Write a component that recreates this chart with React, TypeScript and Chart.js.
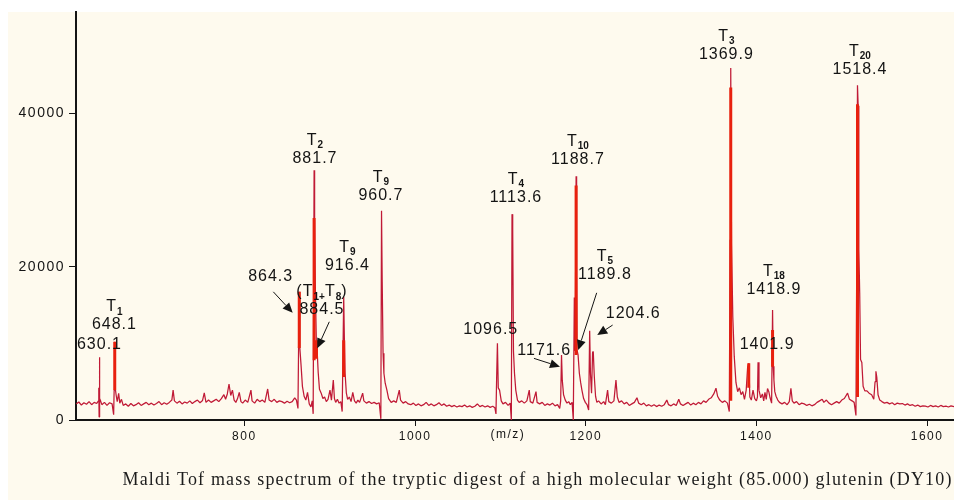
import React, { useEffect, useRef } from 'react';
import { Chart, registerables } from 'chart.js';

Chart.register(...registerables);

// ---- scale extents and ticks ----
const MZ_MIN = 602.7;
const MZ_MAX = 1631.5;
const INTENSITY_MAX = 53200;
const xTickValues = [800, 1000, 1200, 1400, 1600];
const yTickValues = [0, 20000, 40000];

// ---- spectrum: [m/z, intensity] ----
const spectrum: [number, number][] = [
  [603, 2100], [606, 2350], [609, 1950], [612, 2250], [615, 2050], [618, 2400], [621, 2000], [624, 2300],
  [627, 2150], [628.6, 2450], [629.4, 4200], [629.8, 400], [630.1, 8180], [630.6, 2800], [631.5, 2500],
  [633, 2000], [636, 2300], [639, 1900], [642, 2250], [645, 2100], [646.8, 700], [647.4, 3900],
  [648.1, 10210], [648.8, 4050], [649.8, 3200], [651, 2400], [652.7, 3480], [654, 2200], [656, 2700],
  [658, 1900], [661, 2100], [664, 1800], [667, 2150], [670, 1850], [673, 2000], [676, 2250], [679, 1900],
  [682, 2100], [685, 2300], [688, 2000], [691, 2200], [694, 1950], [697, 2150], [700, 2400], [703, 2000],
  [706, 2250], [709, 2050], [712, 2300], [715, 2600], [716.5, 3900], [718, 2500], [721, 2200], [724, 2450],
  [727, 2100], [730, 2350], [733, 2200], [736, 2500], [739, 2150], [742, 2400], [745, 2600], [748, 2250],
  [751, 2550], [753, 3550], [755, 2300], [758, 2600], [761, 2300], [764, 2500], [767, 2700], [770, 2400],
  [773, 2800], [776, 3300], [778, 2700], [780, 3400], [782, 4700], [784, 3200], [786, 3900], [788, 2600],
  [790, 2300], [792, 2800], [794, 3600], [796, 2400], [798, 2200], [801, 2600], [804, 2300], [807.7, 3900],
  [809, 2500], [812, 2200], [815, 2700], [818, 2400], [821, 2600], [824, 2300], [827.3, 4050], [829, 2600],
  [832, 2400], [835, 2700], [838, 2300], [841, 2500], [844, 2400], [847, 2200], [850, 2450], [853, 2250],
  [856, 2400], [859, 2900], [861, 2600], [862.8, 1500], [863.5, 9400], [864.3, 16730], [865, 9400],
  [866.5, 7000], [868, 4400], [870, 3100], [872, 2600], [874, 3600], [876, 2100], [878, 1700], [879.5, 2500],
  [880.6, 800], [881.7, 32600], [882.3, 26350], [883.2, 17000], [884.5, 9130], [885.5, 8500], [886.5, 6200],
  [888, 4000], [890, 3500], [892, 2800], [894, 3000], [896, 2400], [898, 2700], [900.3, 3900], [902, 2600],
  [904.2, 5200], [905.5, 2800], [907, 2300], [909, 2700], [911, 2200], [913, 2400], [914.6, 1100],
  [916.4, 16080], [917.2, 10400], [918, 6100], [919.5, 3500], [921, 2700], [923, 3000], [925, 2400],
  [927, 3600], [929, 2500], [931, 2200], [933, 2600], [935, 2300], [938.6, 3500], [940, 2500], [943, 2200],
  [946, 2400], [949, 2150], [952, 2300], [955, 2100], [958, 2250], [959.9, 150], [960.7, 27300],
  [961.5, 18000], [962.5, 8700], [963.5, 6100], [965, 4800], [967, 3900], [969, 2800], [972, 2300],
  [975, 2500], [978, 2300], [981.5, 3900], [983, 2600], [986, 2200], [989, 2400], [992, 2100], [995, 2000],
  [998, 2200], [1001, 1900], [1004, 2100], [1007, 1850], [1010, 2000], [1013, 2300], [1016, 1900],
  [1019, 2100], [1022, 1850], [1025, 2000], [1028, 2250], [1031, 1900], [1034, 2100], [1037, 1800],
  [1040, 1950], [1043, 1750], [1046, 1900], [1049, 1700], [1052, 1850], [1055, 1750], [1058, 1950],
  [1061, 1700], [1064, 1850], [1067, 1650], [1070, 1800], [1073, 2100], [1076, 1750], [1079, 1900],
  [1082, 1700], [1085, 1850], [1088, 1650], [1091, 1800], [1093.5, 1600], [1094.8, 800], [1095.6, 5500],
  [1096.5, 10000], [1097.5, 4200], [1099, 3900], [1101, 2500], [1103, 2100], [1106, 2300], [1109, 1900],
  [1111.5, 2200], [1112.8, 0], [1113.6, 26870], [1114.4, 25000], [1115.3, 9000], [1116.5, 6100],
  [1118, 3900], [1120, 2600], [1122, 2300], [1125, 2500], [1128, 2200], [1131, 2500], [1133.8, 3900],
  [1135, 2400], [1138, 2200], [1141.7, 3700], [1143, 2300], [1146, 2100], [1149, 2300], [1152, 1900],
  [1155, 2100], [1158, 1950], [1161, 2200], [1164, 1850], [1167, 2000], [1169.5, 1500], [1170.6, 2500],
  [1171.6, 8480], [1172.5, 5200], [1174, 3300], [1176, 2600], [1178, 2200], [1180, 2400], [1182, 2000],
  [1184, 2300], [1185.4, 0], [1186.6, 16000], [1187.6, 9000], [1188.7, 31820], [1189.3, 20000],
  [1189.8, 9130], [1191, 8500], [1192.5, 6100], [1194, 4900], [1195.5, 3900], [1197.5, 2800],
  [1199.5, 2300], [1201.5, 2000], [1203.4, 1300], [1204.6, 11650], [1205.5, 6100], [1206.8, 3500],
  [1208, 8800], [1208.8, 8950], [1210, 5700], [1211.5, 3100], [1213, 2300], [1215, 2500], [1218, 2100],
  [1221, 2400], [1223, 2000], [1225.6, 3900], [1227, 2400], [1230, 2200], [1233, 2500], [1235.4, 5200],
  [1237, 3000], [1239, 2300], [1242, 2500], [1245, 2100], [1248, 2300], [1251, 1900], [1254, 2100],
  [1257, 2300], [1260, 2900], [1262, 2200], [1265, 2000], [1268, 2200], [1271, 1850], [1274, 2000],
  [1277, 1800], [1280, 2000], [1283, 1750], [1286, 1950], [1289, 1800], [1292, 2000], [1295, 2600],
  [1297, 2000], [1300, 1850], [1303, 2100], [1306, 1900], [1309, 2700], [1311, 2100], [1314, 1900],
  [1317, 2100], [1320, 2300], [1323, 1950], [1326, 2200], [1329, 2000], [1332, 2300], [1335, 2100],
  [1338, 2500], [1341, 2300], [1344, 2700], [1347, 2900], [1350, 3400], [1352.6, 4150], [1354.5, 3100],
  [1357, 2600], [1360, 2300], [1363, 2500], [1366, 2200], [1368.2, 1100], [1369.2, 23500], [1369.9, 45950],
  [1370.8, 23000], [1372.3, 13500], [1374, 8300], [1376, 4900], [1378, 3700], [1380, 4200], [1382, 3300],
  [1384, 3700], [1386, 2700], [1388, 3900], [1389.7, 6900], [1391, 7400], [1392.3, 3000], [1394, 2600],
  [1396, 3900], [1398, 2800], [1400, 2500], [1401.2, 3000], [1401.9, 7530], [1403, 3900], [1405, 2900],
  [1407, 3400], [1408.5, 2500], [1410, 3600], [1411.5, 2700], [1413, 4100], [1414.5, 3700], [1416, 2900],
  [1417.8, 2200], [1418.9, 14350], [1419.7, 7000], [1420.5, 5200], [1421.5, 3700], [1423, 3100],
  [1425, 2600], [1427, 2300], [1430, 2100], [1433, 2300], [1436, 2000], [1438.5, 2400], [1440.4, 4150],
  [1442, 2500], [1444, 2200], [1447, 2400], [1450, 2000], [1453, 2200], [1456, 2100], [1459, 1900],
  [1462, 2050], [1465, 1850], [1468, 2000], [1471, 2300], [1474, 2500], [1477, 2700], [1479, 2300],
  [1482, 2600], [1485, 2200], [1488, 2000], [1491, 2200], [1494, 2400], [1497, 2200], [1500, 2600],
  [1503, 2800], [1506.8, 3500], [1509, 2700], [1512, 2500], [1514.5, 2300], [1516.6, 600], [1517.6, 22000],
  [1518.4, 43690], [1519.2, 41000], [1520, 22300], [1521, 16600], [1522, 7900], [1523.5, 7500],
  [1525, 4400], [1527, 3800], [1529.5, 3800], [1532, 3500], [1535, 3300], [1537.5, 2700], [1539, 5000],
  [1540, 6350], [1541, 5600], [1542.5, 3300], [1544.5, 2600], [1547, 2400], [1550, 2200], [1553, 2300],
  [1556, 2100], [1559, 2250], [1562, 2000], [1565, 2200], [1568, 2100], [1571, 2150], [1574, 1950],
  [1577, 2100], [1580, 1900], [1583, 2000], [1586, 1800], [1589, 1950], [1592, 1750], [1595, 1850],
  [1598, 1800], [1601, 1700], [1604, 1900], [1607, 1750], [1610, 1850], [1613, 1700], [1616, 1900],
  [1619, 1750], [1622, 1800], [1625, 1700], [1628, 1850], [1631.5, 1750],
];

// ---- high-intensity cores of the main peaks (second, red trace) ----
const coreMz = [648.1, 864.3, 881.7, 884.5, 916.4, 1188.7, 1369.9, 1391, 1418.9, 1518.4];
const coreTop = [10210, 16730, 26350, 10400, 10400, 30600, 43400, 7400, 11740, 41200];
const coreBottom = [3900, 9400, 7800, 8000, 5600, 8500, 2500, 4200, 6950, 3000];

// ---- labelled peaks (tag uses _{..} for subscripts) ----
const peakMz = [630.1, 648.1, 864.3, 881.7, 884.5, 916.4, 960.7, 1096.5, 1113.6, 1171.6, 1188.7, 1189.8, 1204.6, 1369.9, 1401.9, 1418.9, 1518.4];
const peakTags = ['', 'T_{1}', '', 'T_{2}', '(T_{1+}T_{8})', 'T_{9}', 'T_{9}', '', 'T_{4}', '', 'T_{10}', 'T_{5}', '', 'T_{3}', '', 'T_{18}', 'T_{20}'];
// anchor of each value label (m/z, intensity)
const labelMz = [630.2, 647.7, 830.8, 882.7, 890.9, 920.8, 960.0, 1088.7, 1118.2, 1151.3, 1190.9, 1222.5, 1255.7, 1364.8, 1412.5, 1420.5, 1521.3];
const labelLevel = [9780, 12390, 18690, 34170, 14346, 20215, 29345, 11830, 29045, 9000, 34000, 19040, 13825, 47730, 9780, 17045, 45740];

// ---- pointer arrows (m/z, intensity) ----
const arrowFrom: [number, number][] = [[833.9, 16730], [899.5, 12820], [1139.3, 8045], [1212.8, 16600], [1231.5, 12390]];
const arrowTo: [number, number][] = [[856.6, 13995], [885.4, 9350], [1169.8, 6950], [1191.2, 9130], [1213.5, 11085]];

const unitLabel = '(m/z)';
const unitLabelMz = 1108.8;
const caption = 'Maldi Tof mass spectrum of the tryptic digest of a high molecular weight (85.000) glutenin (DY10)';

const CREAM = '#fefaee';
const TRACE = '#c01a36';
const CORE = '#e8200e';
const INK = '#141414';
const SANS = '"Liberation Sans", Arial, sans-serif';
const SERIF = '"Liberation Serif", "Times New Roman", serif';

type Part = { t: string; sub: boolean };

function splitTag(src: string): Part[] {
  const parts: Part[] = [];
  const re = /_\{([^}]*)\}/g;
  let last = 0;
  let m: RegExpExecArray | null;
  while ((m = re.exec(src))) {
    if (m.index > last) parts.push({ t: src.slice(last, m.index), sub: false });
    parts.push({ t: m[1], sub: true });
    last = re.lastIndex;
  }
  if (last < src.length) parts.push({ t: src.slice(last), sub: false });
  return parts;
}

function drawRich(ctx: CanvasRenderingContext2D, src: string, cx: number, cy: number) {
  const parts = splitTag(src);
  const fontOf = (p: Part) => (p.sub ? `bold 10px ${SANS}` : `16px ${SANS}`);
  const spacingOf = (p: Part) => (p.sub ? '0px' : '1px');
  let total = 0;
  const widths = parts.map((p) => {
    ctx.font = fontOf(p);
    (ctx as any).letterSpacing = spacingOf(p);
    const w = ctx.measureText(p.t).width;
    total += w;
    return w;
  });
  let x = cx - total / 2;
  ctx.textAlign = 'left';
  ctx.textBaseline = 'middle';
  parts.forEach((p, i) => {
    ctx.font = fontOf(p);
    (ctx as any).letterSpacing = spacingOf(p);
    ctx.fillText(p.t, x, p.sub ? cy + 5 : cy);
    x += widths[i];
  });
}

function drawArrow(ctx: CanvasRenderingContext2D, x0: number, y0: number, x1: number, y1: number) {
  const dx = x1 - x0;
  const dy = y1 - y0;
  const len = Math.hypot(dx, dy) || 1;
  const ux = dx / len;
  const uy = dy / len;
  const head = 10;
  const half = 4.5;
  const bx = x1 - ux * head;
  const by = y1 - uy * head;
  ctx.strokeStyle = INK;
  ctx.fillStyle = INK;
  ctx.lineWidth = 1;
  ctx.beginPath();
  ctx.moveTo(x0, y0);
  ctx.lineTo(bx, by);
  ctx.stroke();
  ctx.beginPath();
  ctx.moveTo(x1, y1);
  ctx.lineTo(bx - uy * half, by + ux * half);
  ctx.lineTo(bx + uy * half, by - ux * half);
  ctx.closePath();
  ctx.fill();
}

const spectrumOverlay = {
  id: 'spectrumOverlay',
  beforeDraw(chart: any) {
    chart.ctx.letterSpacing = '1.5px';
  },
  afterDraw(chart: any) {
    const ctx: CanvasRenderingContext2D = chart.ctx;
    const xs = chart.scales.x;
    const ys = chart.scales.y;
    ctx.save();
    ctx.fillStyle = INK;

    peakMz.forEach((mz, i) => {
      const cx = xs.getPixelForValue(labelMz[i]);
      const cy = ys.getPixelForValue(labelLevel[i]);
      ctx.fillStyle = INK;
      drawRich(ctx, mz.toFixed(1), cx, cy);
      if (peakTags[i]) drawRich(ctx, peakTags[i], cx, cy - 18);
    });

    arrowFrom.forEach((from, i) => {
      const to = arrowTo[i];
      drawArrow(
        ctx,
        xs.getPixelForValue(from[0]), ys.getPixelForValue(from[1]),
        xs.getPixelForValue(to[0]), ys.getPixelForValue(to[1]),
      );
    });

    ctx.fillStyle = INK;
    ctx.font = `12px ${SANS}`;
    (ctx as any).letterSpacing = '1.5px';
    ctx.textAlign = 'center';
    ctx.textBaseline = 'middle';
    ctx.fillText(unitLabel, xs.getPixelForValue(unitLabelMz), xs.top + 15);

    ctx.font = `18px ${SERIF}`;
    (ctx as any).letterSpacing = '1.17px';
    ctx.textAlign = 'left';
    ctx.textBaseline = 'alphabetic';
    ctx.fillStyle = '#1c1c1c';
    ctx.fillText(caption, 122.5, 484.5);

    ctx.restore();
    (ctx as any).letterSpacing = '0px';
  },
};

export default function App() {
  const canvasRef = useRef<HTMLCanvasElement>(null);

  useEffect(() => {
    const canvas = canvasRef.current;
    if (!canvas) return;

    const coreData: { x: number; y: number | null }[] = [];
    coreMz.forEach((mz, i) => {
      coreData.push({ x: mz, y: coreTop[i] }, { x: mz, y: coreBottom[i] }, { x: mz, y: null });
    });

    const chart = new Chart(canvas, {
      type: 'line',
      data: {
        datasets: [
          {
            data: coreData as any,
            borderColor: CORE,
            borderWidth: 3,
            borderCapStyle: 'butt',
            pointRadius: 0,
            spanGaps: false,
          },
          {
            data: spectrum.map(([x, y]) => ({ x, y })),
            borderColor: TRACE,
            borderWidth: 1.25,
            borderJoinStyle: 'bevel',
            pointRadius: 0,
            tension: 0,
          },
        ],
      },
      options: {
        responsive: false,
        animation: false,
        devicePixelRatio: 1,
        events: [],
        layout: { padding: { top: 12, left: 0, right: 0, bottom: 0 } },
        plugins: { legend: { display: false }, tooltip: { enabled: false } },
        scales: {
          x: {
            type: 'linear',
            min: MZ_MIN,
            max: MZ_MAX,
            afterBuildTicks: (s: any) => {
              s.ticks = xTickValues.map((value) => ({ value }));
            },
            afterFit: (s: any) => {
              s.height = 80;
            },
            ticks: {
              autoSkip: false,
              maxRotation: 0,
              padding: 3,
              color: INK,
              font: { family: SANS, size: 12 },
              callback: (v: any) => String(v),
            },
            grid: { drawOnChartArea: false, drawTicks: true, tickLength: 6, tickColor: INK, tickWidth: 1 },
            border: { display: true, color: INK, width: 2 },
          },
          y: {
            type: 'linear',
            min: 0,
            max: INTENSITY_MAX,
            afterBuildTicks: (s: any) => {
              s.ticks = yTickValues.map((value) => ({ value }));
            },
            afterFit: (s: any) => {
              s.width = 76;
            },
            ticks: {
              padding: 4,
              color: INK,
              font: { family: SANS, size: 14 },
              callback: (v: any) => String(v),
            },
            grid: { drawOnChartArea: false, drawTicks: true, tickLength: 7, tickColor: INK, tickWidth: 1 },
            border: { display: true, color: INK, width: 2 },
          },
        },
      },
      plugins: [spectrumOverlay],
    });

    return () => chart.destroy();
  }, []);

  return (
    <div style={{ position: 'absolute', left: 0, top: 0, width: 954, height: 500, background: '#ffffff', overflow: 'hidden' }}>
      <div style={{ position: 'absolute', left: 8, top: 12, right: 0, bottom: 0, background: CREAM }} />
      <canvas
        ref={canvasRef}
        width={954}
        height={500}
        style={{ position: 'absolute', left: 0, top: 0, width: 954, height: 500 }}
      />
    </div>
  );
}
